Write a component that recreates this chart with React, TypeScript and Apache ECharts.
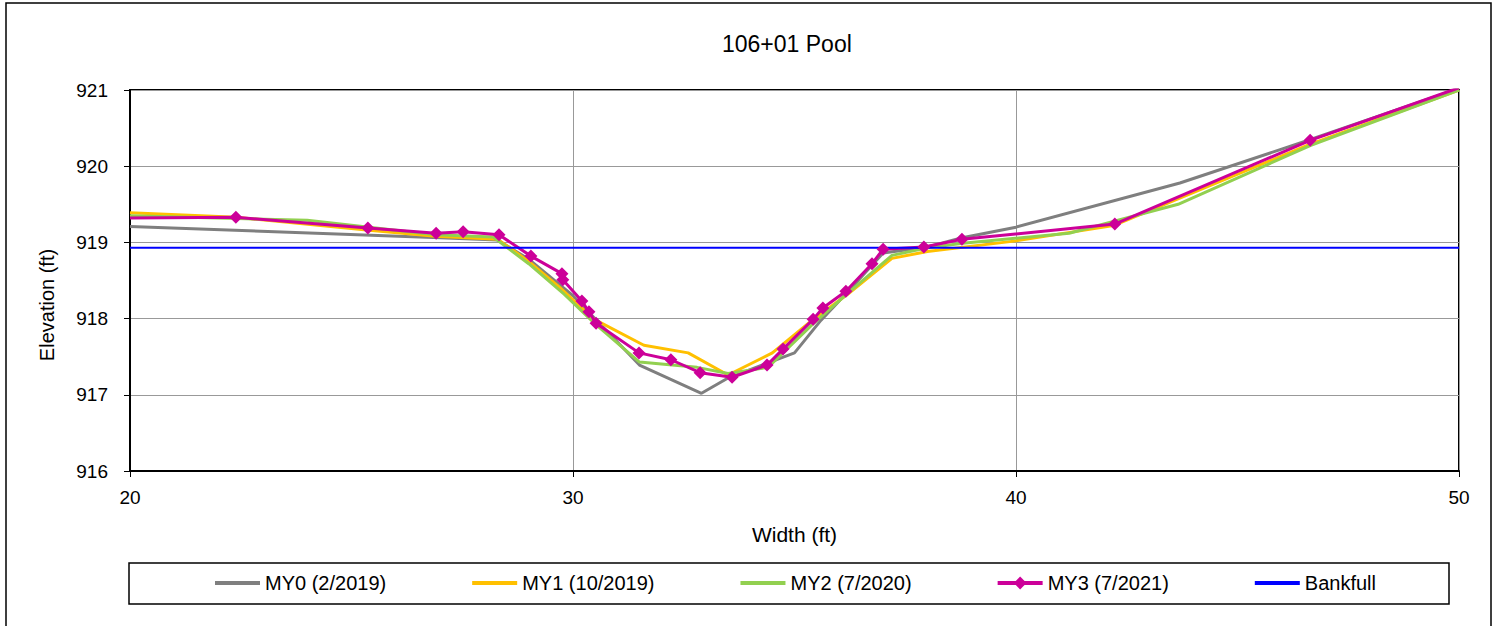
import React, { useEffect, useRef } from "react";
import * as echarts from "echarts";

const seriesNames = ["MY0 (2/2019)", "MY1 (10/2019)", "MY2 (7/2020)", "MY3 (7/2021)", "Bankfull"];

const my0X = [20, 27.0, 28.3, 29.0, 30.0, 31.5, 32.9, 33.5, 35.0, 35.6, 36.2, 37.0, 38.0, 38.7, 40.0, 43.7, 46.6, 50];
const my0Y = [919.21, 919.06, 919.03, 918.78, 918.3, 917.39, 917.02, 917.22, 917.55, 917.98, 918.35, 918.86, 918.94, 919.05, 919.2, 919.78, 920.34, 921.02];

const my1X = [20, 22.4, 25.4, 26.9, 28.3, 29.0, 29.7, 30.45, 31.6, 32.6, 33.5, 34.5, 35.4, 36.2, 37.2, 38.0, 40.0, 42.2, 46.6, 50];
const my1Y = [919.39, 919.33, 919.16, 919.08, 919.04, 918.75, 918.41, 918.0, 917.65, 917.55, 917.26, 917.55, 917.98, 918.32, 918.79, 918.88, 919.02, 919.22, 920.28, 921.0];

const my2X = [20, 24.0, 26.9, 28.2, 29.0, 29.8, 30.5, 31.5, 32.8, 33.5, 34.4, 35.4, 36.2, 37.2, 38.0, 38.8, 41.2, 43.66, 46.64, 50];
const my2Y = [919.35, 919.29, 919.1, 919.07, 918.72, 918.32, 917.93, 917.43, 917.36, 917.28, 917.36, 917.92, 918.33, 918.83, 918.93, 918.99, 919.12, 919.5, 920.27, 921.0];

const my3X = [20, 22.39, 25.37, 26.91, 27.52, 28.33, 29.05, 29.75, 29.77, 30.2, 30.36, 30.52, 31.49, 32.21, 32.87, 33.59, 34.38, 34.74, 35.42, 35.64, 36.16, 36.75, 37.0, 37.92, 38.78, 42.23, 46.64, 50];
const my3Y = [919.32, 919.33, 919.19, 919.12, 919.14, 919.1, 918.82, 918.59, 918.51, 918.23, 918.09, 917.94, 917.55, 917.46, 917.29, 917.23, 917.39, 917.6, 917.99, 918.14, 918.36, 918.72, 918.91, 918.94, 919.04, 919.24, 920.34, 921.03];
// markers shown on MY3 except the line ends at the axis edges
const my3Marked = my3X.map((x, i) => i !== 0 && i !== my3X.length - 1);

const bankfullX = [20, 50];
const bankfullY = [918.93, 918.93];

const colors = ["#7f7f7f", "#ffc000", "#92d050", "#cc0099", "#0000ff"];

const zip = (xs: number[], ys: number[]) => xs.map((x, i) => [x, ys[i]]);

const FONT = "Liberation Sans";

export default function App() {
  const ref = useRef<HTMLDivElement>(null);
  useEffect(() => {
    if (!ref.current) return;
    const chart = echarts.init(ref.current, null, { renderer: "svg" });
    const lineSeries = (idx: number, data: any[], extra: any = {}) => ({
      name: seriesNames[idx],
      type: "line",
      data,
      symbol: "none",
      lineStyle: { color: colors[idx], width: 3 },
      itemStyle: { color: colors[idx] },
      ...extra,
    });
    const hiddenMarker = { color: "transparent", opacity: 0, borderWidth: 0 };
    chart.setOption({
      animation: false,
      backgroundColor: "#ffffff",
      title: {
        text: "106+01 Pool",
        left: 722,
        top: 32,
        padding: 0,
        textStyle: { fontFamily: FONT, fontSize: 23, fontWeight: "normal", color: "#000" },
      },
      legend: {
        left: 213,
        top: 573,
        padding: 0,
        itemWidth: 45,
        itemHeight: 16,
        itemGap: 84,
        lineStyle: { width: 4 },
        textStyle: { fontFamily: FONT, fontSize: 20, color: "#000" },
        data: seriesNames.map((n, i) =>
          i === 3 ? { name: n } : { name: n, itemStyle: hiddenMarker }
        ),
      },
      grid: {
        left: 130,
        right: 42,
        top: 90,
        bottom: 155,
        show: true,
        borderColor: "#000",
        borderWidth: 2,
        backgroundColor: "transparent",
      },
      xAxis: {
        type: "value",
        min: 20,
        max: 50,
        interval: 10,
        name: "Width (ft)",
        nameLocation: "middle",
        nameGap: 53,
        nameTextStyle: { fontFamily: FONT, fontSize: 21, color: "#000" },
        axisLine: { show: true, lineStyle: { color: "#000", width: 2 } },
        axisTick: { show: true, length: 6, lineStyle: { color: "#000", width: 1 } },
        axisLabel: { fontFamily: FONT, fontSize: 19, color: "#000", margin: 17 },
        splitLine: { show: true, lineStyle: { color: "#999999", width: 1 } },
      },
      yAxis: {
        type: "value",
        min: 916,
        max: 921,
        interval: 1,
        axisLine: { show: true, lineStyle: { color: "#000", width: 2 } },
        axisTick: { show: true, length: 6, lineStyle: { color: "#000", width: 1 } },
        axisLabel: { fontFamily: FONT, fontSize: 19, color: "#000", margin: 22 },
        splitLine: { show: true, lineStyle: { color: "#999999", width: 1 } },
      },
      graphic: [
        {
          type: "rect",
          shape: { x: 6, y: 3, width: 1485, height: 650 },
          style: { fill: "none", stroke: "#000", lineWidth: 1.5 },
          silent: true,
        },
        {
          type: "rect",
          shape: { x: 129, y: 563, width: 1320, height: 41 },
          style: { fill: "none", stroke: "#000", lineWidth: 1.5 },
          silent: true,
        },
        {
          type: "text",
          x: 47,
          y: 305,
          rotation: Math.PI / 2,
          style: {
            text: "Elevation (ft)",
            fontFamily: FONT,
            fontSize: 20,
            fill: "#000",
            align: "center",
            verticalAlign: "middle",
          },
          silent: true,
        },
      ],
      series: [
        lineSeries(0, zip(my0X, my0Y)),
        lineSeries(1, zip(my1X, my1Y)),
        lineSeries(2, zip(my2X, my2Y)),
        lineSeries(
          3,
          zip(my3X, my3Y).map((p, i) => ({
            value: p,
            symbol: my3Marked[i] ? "diamond" : "none",
          })),
          { symbol: "diamond", symbolSize: 13, showAllSymbol: true }
        ),
        lineSeries(4, zip(bankfullX, bankfullY), { lineStyle: { color: colors[4], width: 2 } }),
      ],
    });
    return () => chart.dispose();
  }, []);
  return (
    <div
      ref={ref}
      style={{ position: "fixed", left: 0, top: 0, width: 1501, height: 626, background: "#fff" }}
    />
  );
}
